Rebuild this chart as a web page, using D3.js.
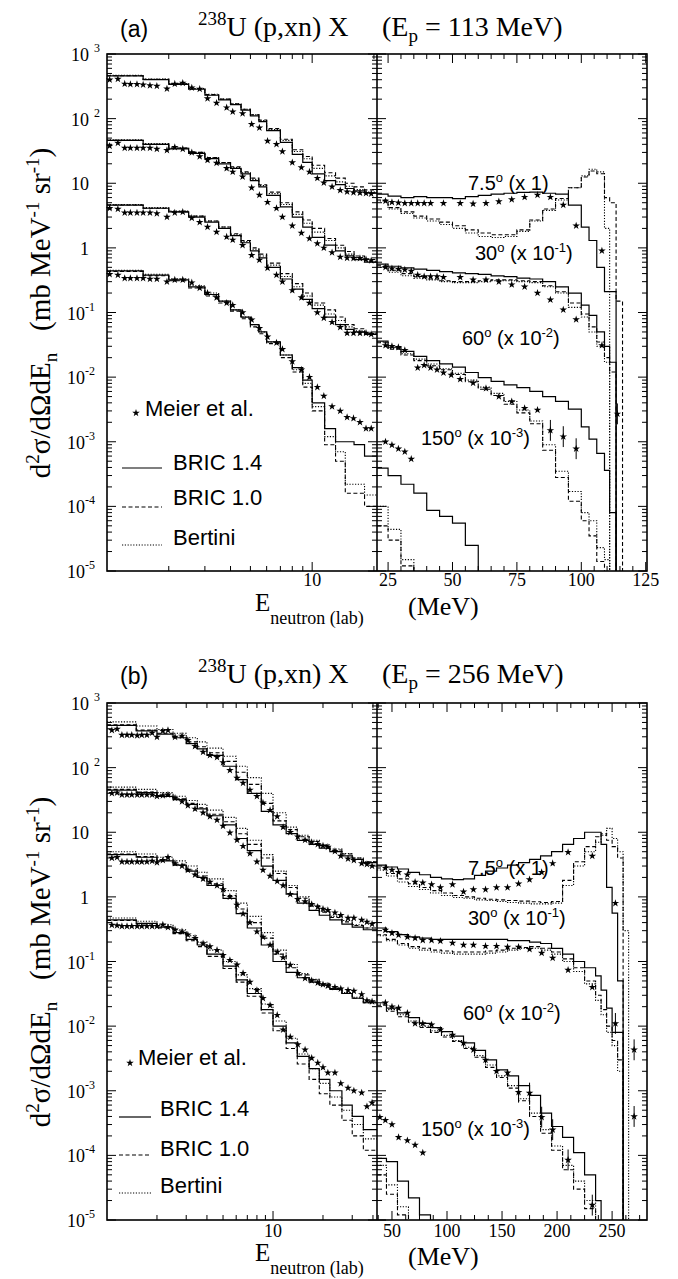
<!DOCTYPE html>
<html>
<head>
<meta charset="utf-8">
<script src="https://cdn.jsdelivr.net/npm/d3@7/dist/d3.min.js"></script>
<style>
  body { margin: 0; background: #fff; }
  svg text { fill: #000; }
</style>
</head>
<body>
<script>
// ================= panel (a): Ep = 113 MeV =================
const edgesLeftA = [1,1.5,2,2.5,3,3.5,4,4.5,5,5.5,6,7,8,9,10,11.5,13,14.5,16,18,20.7];
const edgesRightA = [20.7,25,30,35,40,45,50,55,60,65,70,75,80,85,90,95,100,103,106,109,111,113.5,116,119,125.5];
const starELeftA = [1.03,1.13,1.22,1.3,1.4,1.5,1.62,1.75,1.96,2.14,2.34,2.59,2.83,3.09,3.42,3.83,4.1,4.58,5.07,5.53,6.06,6.7,7.16,8.0,8.86,9.7,10.6,11.4,12.5,13.7,14.8,15.9,17.1,18.3,19.4];
const starERightA = [24,26.5,29,31.5,34,36.5,39,41.5,44,46.5,49.5,53,58,63,68,73,78,83,88,93,98,103,108,114];

// Meier et al. data (already multiplied by the angle factor)
const meier_a75L = [400,410,345,340,340,335,325,320,290,345,355,300,288,205,175,148,128,120,82,72,45,40,31,21,17.5,15,12,10.2,8.8,7.8,7.4,7.2,7.1,7.0,6.9];
const meier_a30L = [37.7,42,35,35,35,35,35,34,32.5,36,34,30,26,22.8,20.6,17,15,12.6,8.5,6.6,5.1,4.1,3.0,2.2,1.7,1.4,1.17,1.0,0.85,0.72,0.70,0.69,0.69,0.66,0.64];
const meier_a60L = [4.1,4.0,3.5,3.5,3.5,3.5,3.5,3.4,3.0,3.5,3.6,2.9,2.5,2.1,1.76,1.48,1.33,1.1,0.77,0.65,0.49,0.38,0.30,0.22,0.17,0.14,0.10,0.082,0.071,0.059,0.048,0.048,0.048,0.048,0.046];
const meier_a150L = [0.39,0.38,0.34,0.34,0.34,0.34,0.33,0.33,0.30,0.32,0.32,0.29,0.24,0.20,0.17,0.14,0.13,0.10,0.077,0.057,0.042,0.034,0.027,0.0175,0.013,0.010,0.007,0.0051,0.0035,0.003,0.0024,0.0023,0.002,0.0016,0.0016];
const meier_a75R = [5.3,5.1,5.0,4.9,4.9,4.9,4.9,4.9,null,4.9,null,4.9,4.8,4.9,5.2,5.6,6.1,6.6,6.1,4.6,2.2,null,0.9,null];
const meier_a30R = [0.50,0.48,0.47,0.46,0.44,0.38,0.36,0.36,0.36,0.35,null,0.35,0.32,0.32,0.30,0.27,0.25,0.20,0.157,0.11,0.078,null,0.031,null];
const meier_a60R = [0.031,0.030,0.029,0.026,null,0.014,0.0153,0.014,0.013,0.0117,0.0108,0.0093,0.0081,0.0067,0.005,0.0042,0.0033,0.0031,0.0015,0.0012,0.00078,null,null,0.0027];
const meier_a150R = [0.001,0.00089,0.00078,0.0007,0.00054];

// BRIC 1.4 (solid), BRIC 1.0 (dashed), Bertini (dotted)
const bric14_a75L = [460,400,340,285,230,195,165,135,110,90,65,43,28,21,14,11,9.5,8.3,7.6,7.1];
const bric10_a75L = [460,405,345,290,235,200,170,140,115,95,70,48,33,26,19,14.5,12,10,8.8,7.9];
const bert_a75L   = [470,410,350,292,238,200,170,140,115,93,68,46,31,24,17,13,10.5,9,8,7.3];
const bric14_a30L = [46,40,34,29,24,20,17,14,11,8.8,6.5,4.3,3.0,2.1,1.45,1.1,0.9,0.75,0.66,0.6];
const bric10_a30L = [46,40,35,30,25,21,18,15,12,9.5,7.3,5.0,3.6,2.7,2.0,1.4,1.1,0.88,0.75,0.66];
const bert_a30L   = [47,41,35,30,25,21,17.5,14.5,11.5,9.2,6.9,4.7,3.3,2.4,1.75,1.3,1.0,0.8,0.7,0.62];
const bric14_a60L = [4.6,4.1,3.6,3.0,2.5,2.0,1.55,1.2,0.9,0.7,0.5,0.33,0.23,0.16,0.115,0.085,0.065,0.055,0.05,0.046];
const bric10_a60L = [4.6,4.1,3.6,3.1,2.6,2.1,1.65,1.3,1.0,0.8,0.58,0.4,0.28,0.2,0.14,0.11,0.085,0.065,0.056,0.048];
const bert_a60L   = [4.7,4.2,3.7,3.1,2.6,2.1,1.6,1.25,0.95,0.75,0.54,0.36,0.25,0.18,0.13,0.095,0.075,0.06,0.052,0.047];
const bric14_a150L = [0.44,0.38,0.32,0.25,0.19,0.15,0.11,0.085,0.065,0.05,0.035,0.022,0.014,0.009,0.004,0.0016,0.001,0.001,0.0009,0.0006];
const bric10_a150L = [0.43,0.37,0.31,0.24,0.18,0.14,0.105,0.08,0.06,0.047,0.033,0.02,0.012,0.007,0.003,0.0009,0.0005,0.00016,0.00016,0.0001];
const bert_a150L   = [0.45,0.39,0.33,0.26,0.2,0.15,0.11,0.085,0.065,0.05,0.035,0.022,0.013,0.008,0.0035,0.0012,0.0007,0.00022,0.00022,0.00015];

const bric14_a75R = [6.8,6.3,6.0,6.2,6.0,6.0,5.8,6.2,6.5,6.8,7.0,7.2,7.3,7.0,6.8,4.6,2.1,1.3,0.5,0.21,0.21,0];
const bric10_a75R = [5.5,4.2,3.6,3.1,2.8,2.5,2.2,1.9,1.7,1.6,1.6,1.9,2.7,4.0,5.8,8.5,12.5,15.5,14,6,5,0.15,0];
const bert_a75R   = [5.3,4.0,3.4,2.9,2.6,2.3,2.0,1.7,1.5,1.45,1.5,1.8,2.6,3.8,5.5,8.5,13,16.5,15,2,0];
const bric14_a30R = [0.56,0.52,0.49,0.47,0.45,0.43,0.41,0.40,0.39,0.37,0.36,0.34,0.33,0.30,0.25,0.2,0.13,0.09,0.05,0.03,0.017,0];
const bric10_a30R = [0.53,0.45,0.40,0.36,0.33,0.31,0.30,0.30,0.31,0.32,0.32,0.31,0.30,0.26,0.21,0.14,0.095,0.06,0.035,0.02,0.012,0];
const bert_a30R   = [0.5,0.42,0.37,0.34,0.32,0.30,0.29,0.29,0.30,0.31,0.31,0.30,0.29,0.25,0.2,0.12,0.085,0.05,0.03,0.017,0];
const bric14_a60R = [0.036,0.029,0.025,0.021,0.018,0.016,0.0143,0.0118,0.0098,0.0086,0.0076,0.0069,0.006,0.005,0.0042,0.0032,0.0017,0.0011,0.00066,0.00036,0.00008,0];
const bric10_a60R = [0.034,0.027,0.022,0.018,0.015,0.013,0.011,0.0085,0.0065,0.0052,0.0038,0.0028,0.0019,0.00074,0.00028,0.00012,0.00006,0.000035,0.000014,0];
const bert_a60R   = [0.035,0.028,0.023,0.019,0.016,0.0135,0.0115,0.009,0.007,0.0056,0.0042,0.0031,0.0021,0.0009,0.00035,0.00017,0.00008,0.00006,0.000023,0.000015,0];
const bric14_a150R = [0.00039,0.0003,0.00022,0.00016,0.000087,0.00007,0.000055,0.000025,0];
const bric10_a150R = [0.00005,0.00003,0.000012,0];
const bert_a150R   = [0.0001,0.000044,0.000015,0.000006,0];

// ================= panel (b): Ep = 256 MeV =================
const edgesLeftB = [1,1.5,2,2.5,3,3.5,4,5,6,7,8.5,10,12,14,16.5,19,22,26,30,35,42.3];
const edgesRightB = [36.4,45,55,65,75,85,95,105,115,125,135,145,155,165,175,185,195,205,215,225,235,240,245,250,255,260,265,270,281.7];
const starELeftB = [1.07,1.15,1.23,1.32,1.41,1.52,1.62,1.74,1.87,2.0,2.17,2.33,2.57,2.83,3.07,3.39,3.79,4.17,4.6,5.0,5.5,6.07,6.6,7.26,8.0,8.7,9.6,10.6,11.5,12.7,14.1,15.6,17.1,18.6,20,21.4,23.6,25.6,28.3,30.7,34.2,36.8,39.5];
const starERightB = [39,44,50,56,64,71,78,86,94,105,115,124,135,145,155,165,175,186,196,210,220,232,243,253,270];

const meier_b75L = [380,395,320,320,320,315,320,320,345,298,370,380,298,310,265,215,174,155,145,120,91,69,58,45,36,28.5,22,17.5,12,10,8.5,7.6,7.0,6.5,6.2,5.9,5.1,4.3,3.9,3.7,3.3,3.2,3.0];
const meier_b30L = [40,41,38,38,38,38,38,38,38,36,37,38,34,30,26,23,20,17.5,15.5,12.5,9.8,7.6,6.1,4.7,3.5,2.6,2.1,1.75,1.5,1.1,0.92,0.85,0.77,0.7,0.65,0.62,0.57,0.52,0.47,0.47,0.44,0.41,0.38];
const meier_b60L = [4.0,4.1,3.5,3.5,3.5,3.5,3.5,3.5,3.6,3.4,3.7,4.1,3.3,3.0,2.6,2.2,1.9,1.7,1.5,1.3,1.0,0.75,0.55,0.4,0.29,0.24,0.18,0.14,0.115,0.088,0.066,0.055,0.051,0.047,0.044,0.042,0.04,0.038,0.036,0.035,0.031,0.025,0.024];
const meier_b150L = [0.366,0.36,0.35,0.35,0.35,0.35,0.35,0.35,0.35,0.35,0.37,0.34,0.31,0.29,0.26,0.23,0.19,0.17,0.15,0.125,0.105,0.089,0.066,0.048,0.036,0.027,0.021,0.0148,0.0088,0.0068,0.0052,0.0043,0.0032,0.0027,0.0023,0.0019,0.0019,0.0013,0.0011,0.001,0.00093,0.00057,0.00065];
const meier_b75R = [null,2.8,2.6,2.4,2.2,1.7,1.65,1.55,1.4,1.55,1.2,1.3,1.3,1.4,1.4,1.6,1.85,2.4,3.3,4.9,null,4.3,null,0.8,null];
const meier_b30R = [null,0.306,0.275,0.257,0.24,0.23,0.214,0.214,0.207,0.193,0.18,0.18,0.173,0.173,0.167,0.167,0.155,0.135,0.113,0.074,null,0.04,null,0.011,0.0043];
const meier_b60R = [null,0.023,0.02,0.019,0.016,0.011,0.011,0.0105,0.0088,0.0073,0.0055,0.0043,0.003,0.002,0.0019,0.00095,0.00092,0.00039,0.00025,0.000085,null,0.000017,null,null,0.0004];
const meier_b150R = [0.00039,0.00035,0.0003,0.00019,0.00017,0.000145,0.00011];

const bric14_b75L = [450,370,330,290,235,195,155,105,65,40,21,13,9.5,7.5,6.5,5.7,5.0,4.3,3.8,3.4];
const bric10_b75L = [460,380,340,300,250,210,170,125,85,55,28,15,11,8.5,7.2,6.2,5.3,4.6,4.0,3.5];
const bert_b75L   = [510,440,390,340,290,250,200,150,105,70,40,20,12,9,7.5,6.4,5.5,4.7,4.0,3.5];
const bric14_b30L = [45,41,36,32,27,23,18,13,8,5.2,3.0,1.8,1.1,0.8,0.62,0.52,0.44,0.38,0.34,0.31];
const bric10_b30L = [46,42,37,33,28,24,19,14.5,9.5,6.5,4.0,2.3,1.4,0.95,0.72,0.58,0.48,0.41,0.36,0.33];
const bert_b30L   = [50,46,41,36,31,27,22,17,11.5,7.5,4.5,2.5,1.5,1.0,0.75,0.6,0.5,0.43,0.37,0.33];
const bric14_b60L = [4.5,4.1,3.6,3.1,2.5,2.0,1.5,0.95,0.55,0.33,0.18,0.1,0.068,0.056,0.048,0.043,0.037,0.032,0.027,0.023];
const bric10_b60L = [4.6,4.2,3.7,3.2,2.6,2.1,1.6,1.05,0.65,0.4,0.23,0.13,0.08,0.062,0.052,0.045,0.038,0.032,0.027,0.023];
const bert_b60L   = [5.0,4.6,4.1,3.6,3.0,2.4,1.9,1.25,0.8,0.5,0.28,0.15,0.09,0.065,0.053,0.046,0.039,0.033,0.028,0.024];
const bric14_b150L = [0.44,0.39,0.34,0.28,0.22,0.18,0.13,0.085,0.052,0.032,0.018,0.01,0.0055,0.0034,0.0022,0.0015,0.001,0.0006,0.0004,0.00025];
const bric10_b150L = [0.43,0.38,0.33,0.27,0.21,0.17,0.12,0.078,0.048,0.029,0.016,0.0085,0.0045,0.0026,0.0015,0.0009,0.0006,0.00035,0.0002,0.00012];
const bert_b150L   = [0.47,0.42,0.37,0.31,0.25,0.2,0.15,0.1,0.062,0.038,0.022,0.012,0.0065,0.0037,0.0022,0.0013,0.0008,0.0005,0.0003,0.00018];

const bric14_b75R = [3.1,2.9,2.7,2.4,2.2,2.0,1.9,1.85,1.9,2.15,2.5,2.8,3.1,3.4,3.8,4.3,5.0,6.5,8.0,10,10,6.5,1.4,0.56,0.05,0];
const bric10_b75R = [2.8,2.3,1.9,1.6,1.4,1.25,1.15,1.05,1.0,0.95,0.92,0.9,0.88,0.86,0.84,0.82,0.85,1.8,3.5,6.0,8.5,9.5,7.5,6.0,4.0,0];
const bert_b75R   = [2.6,2.1,1.7,1.45,1.3,1.15,1.05,0.98,0.95,0.9,0.88,0.85,0.82,0.8,0.78,0.78,0.8,1.5,3.0,5.0,7.0,9.0,11.5,8.0,5.0,0.3,0];
const bric14_b30R = [0.33,0.29,0.26,0.24,0.23,0.22,0.22,0.22,0.22,0.22,0.22,0.22,0.21,0.21,0.2,0.19,0.16,0.13,0.1,0.08,0.06,0.036,0.019,0.008,0.008,0];
const bric10_b30R = [0.26,0.22,0.19,0.17,0.16,0.15,0.145,0.14,0.14,0.14,0.145,0.15,0.16,0.165,0.17,0.16,0.14,0.11,0.08,0.05,0.03,0.018,0.01,0.006,0.003,0];
const bert_b30R   = [0.25,0.21,0.18,0.16,0.15,0.14,0.135,0.13,0.13,0.13,0.135,0.14,0.15,0.16,0.16,0.15,0.13,0.1,0.07,0.045,0.025,0.015,0.008,0.005,0.002,0];
const bric14_b60R = [0.023,0.019,0.016,0.0135,0.011,0.0095,0.0082,0.007,0.0055,0.0042,0.003,0.0021,0.0017,0.0012,0.00085,0.00045,0.00028,0.00019,0.00011,0.00005,0.00002,0];
const bric10_b60R = [0.021,0.017,0.014,0.0115,0.0095,0.008,0.0068,0.0058,0.0045,0.0033,0.0023,0.0016,0.0011,0.0007,0.0004,0.00022,0.00012,0.00006,0.00003,0.000015,0];
const bert_b60R   = [0.022,0.018,0.015,0.012,0.01,0.0085,0.0072,0.006,0.0047,0.0035,0.0025,0.0017,0.0012,0.00075,0.00045,0.00025,0.00014,0.00007,0.00004,0.00002,0.00001,0];
const bric14_b150R = [0.00009,0.00008,0.00004,0.000022,0.000012,0];
const bric10_b150R = [0.00005,0.000025,0.000012,0];
const bert_b150R   = [0.00007,0.000035,0.000016,0.000008,0];

// labels
const angleNames = ["7.5", "30", "60", "150"];
const angleExp = [null, "-1", "-2", "-3"];
const beamEnergies = ["113", "256"];
const legendNames = ["Meier et al.", "BRIC 1.4", "BRIC 1.0", "Bertini"];

// ================= layout =================
const W = 678, H = 1279;
const X0 = 107, XD = 377, X1 = 647;
const serif = "'Liberation Serif', 'Times New Roman', serif";
const sans = "'Liberation Sans', Arial, sans-serif";

const panels = [
  {
    tag: "(a)", energy: beamEnergies[0],
    top: 54, bottom: 571, leftDomain: [1, 20.7], rightDomain: [20.7, 125.5],
    rightMajor: 25, rightMinor: 5, errFrom: 85,
    edgesL: edgesLeftA, edgesR: edgesRightA, starL: starELeftA, starR: starERightA,
    meier: [[meier_a75L, meier_a75R], [meier_a30L, meier_a30R], [meier_a60L, meier_a60R], [meier_a150L, meier_a150R]],
    bric14: [[bric14_a75L, bric14_a75R], [bric14_a30L, bric14_a30R], [bric14_a60L, bric14_a60R], [bric14_a150L, bric14_a150R]],
    bric10: [[bric10_a75L, bric10_a75R], [bric10_a30L, bric10_a30R], [bric10_a60L, bric10_a60R], [bric10_a150L, bric10_a150R]],
    bert: [[bert_a75L, bert_a75R], [bert_a30L, bert_a30R], [bert_a60L, bert_a60R], [bert_a150L, bert_a150R]],
    titleY: 36, xLabY: 586, eY: 611, mevY: 615, yTitleC: 313,
    leg: { sx: 136, sy: 413, tx: 145, ty: 416, lx0: 122, lx1: 162, tx2: 173, rows: [[468, 470], [507, 505], [545, 545]] },
    angPos: [[468, 190], [475, 260], [462, 345], [421, 445]]
  },
  {
    tag: "(b)", energy: beamEnergies[1],
    top: 703, bottom: 1220, leftDomain: [1, 42.3], rightDomain: [36.4, 281.7],
    rightMajor: 50, rightMinor: 12.5, errFrom: 160,
    edgesL: edgesLeftB, edgesR: edgesRightB, starL: starELeftB, starR: starERightB,
    meier: [[meier_b75L, meier_b75R], [meier_b30L, meier_b30R], [meier_b60L, meier_b60R], [meier_b150L, meier_b150R]],
    bric14: [[bric14_b75L, bric14_b75R], [bric14_b30L, bric14_b30R], [bric14_b60L, bric14_b60R], [bric14_b150L, bric14_b150R]],
    bric10: [[bric10_b75L, bric10_b75R], [bric10_b30L, bric10_b30R], [bric10_b60L, bric10_b60R], [bric10_b150L, bric10_b150R]],
    bert: [[bert_b75L, bert_b75R], [bert_b30L, bert_b30R], [bert_b60L, bert_b60R], [bert_b150L, bert_b150R]],
    titleY: 683, xLabY: 1237, eY: 1261, mevY: 1265, yTitleC: 962,
    leg: { sx: 130, sy: 1063, tx: 138, ty: 1065, lx0: 119, lx1: 151, tx2: 160, rows: [[1117, 1116], [1155, 1156], [1193, 1193]] },
    angPos: [[468, 875], [468, 925], [463, 1020], [421, 1136]]
  }
];

const styles = {
  bric14: { dash: null, w: 1.2 },
  bric10: { dash: "4,2.5", w: 1.1 },
  bert: { dash: "1.2,1.6", w: 1.1 }
};

const svg = d3.select("body").append("svg")
  .attr("width", W).attr("height", H)
  .style("display", "block");

const starSym = d3.symbol().type(d3.symbolStar).size(18);

function stepPath(edges, vals, x, y, floor) {
  const yv = v => (v > 0 ? y(v) : floor);
  let d = "";
  for (let i = 0; i < vals.length; i++) {
    const yy = yv(vals[i]);
    d += (i === 0 ? "M" + x(edges[i]) + "," + yy : "V" + yy) + "H" + x(edges[i + 1]);
  }
  if (vals.length < edges.length - 1) d += "V" + floor;
  return d;
}

panels.forEach((p, pi) => {
  const y = d3.scaleLog().domain([1e-5, 1e3]).range([p.bottom, p.top]);
  const xL = d3.scaleLog().domain(p.leftDomain).range([X0, XD]);
  const xR = d3.scaleLinear().domain(p.rightDomain).range([XD, X1]);
  const floor = p.bottom + 10;
  const g = svg.append("g");

  const defs = svg.append("defs");
  defs.append("clipPath").attr("id", "cl" + pi).append("rect")
    .attr("x", X0).attr("y", p.top).attr("width", XD - X0).attr("height", p.bottom - p.top);
  defs.append("clipPath").attr("id", "cr" + pi).append("rect")
    .attr("x", XD).attr("y", p.top).attr("width", X1 - XD).attr("height", p.bottom - p.top);

  const gl = g.append("g").attr("clip-path", "url(#cl" + pi + ")");
  const gr = g.append("g").attr("clip-path", "url(#cr" + pi + ")");

  // model histograms
  ["bert", "bric10", "bric14"].forEach(key => {
    const st = styles[key];
    p[key].forEach(pair => {
      [[gl, p.edgesL, pair[0], xL], [gr, p.edgesR, pair[1], xR]].forEach(([gg, edges, vals, x]) => {
        gg.append("path")
          .attr("d", stepPath(edges, vals, x, y, floor))
          .attr("fill", "none")
          .attr("stroke", "#000")
          .attr("stroke-width", st.w)
          .attr("stroke-dasharray", st.dash);
      });
    });
  });

  // Meier et al. stars
  p.meier.forEach(pair => {
    [[p.starL, pair[0], xL, false], [p.starR, pair[1], xR, true]].forEach(([es, vals, x, right]) => {
      vals.forEach((v, i) => {
        if (v == null) return;
        const cx = x(es[i]), cy = y(v);
        if (right && es[i] >= p.errFrom && v < 0.02) {
          g.append("line").attr("x1", cx).attr("x2", cx)
            .attr("y1", y(v * 1.45)).attr("y2", y(v / 1.45))
            .attr("stroke", "#000").attr("stroke-width", 1);
        }
        g.append("path").attr("d", starSym)
          .attr("transform", "translate(" + cx + "," + cy + ")")
          .attr("fill", "#000");
      });
    });
  });

  // frame
  g.append("rect").attr("x", X0).attr("y", p.top).attr("width", X1 - X0).attr("height", p.bottom - p.top)
    .attr("fill", "none").attr("stroke", "#000").attr("stroke-width", 1.6);
  g.append("line").attr("x1", XD).attr("x2", XD).attr("y1", p.top).attr("y2", p.bottom)
    .attr("stroke", "#000").attr("stroke-width", 1.6);

  // y ticks
  y.ticks().forEach(t => {
    const e = Math.log10(t);
    const major = Math.abs(e - Math.round(e)) < 1e-9;
    const len = major ? 9 : 5;
    const yy = y(t);
    [[X0, X0 + len], [X1 - len, X1], [XD - len, XD + len]].forEach(([a, b]) => {
      g.append("line").attr("x1", a).attr("x2", b).attr("y1", yy).attr("y2", yy)
        .attr("stroke", "#000").attr("stroke-width", 1);
    });
    if (major) {
      const k = Math.round(e);
      const tx = g.append("text").attr("y", yy + 7).attr("text-anchor", "end")
        .style("font-family", serif).style("font-size", "18px");
      if (k === 0) { tx.attr("x", 89).text("1"); }
      else if (k === 1) { tx.attr("x", 89).text("10"); }
      else {
        tx.attr("x", k > 0 ? 100 : 95);
        tx.append("tspan").text("10");
        tx.append("tspan").attr("dy", -9).attr("dx", k > 0 ? 5 : 0)
          .style("font-size", "12px").text(String(k));
      }
    }
  });

  // x ticks, left log section
  xL.ticks().forEach(t => {
    if (t <= p.leftDomain[0] || t >= p.leftDomain[1]) return;
    const major = t === 10;
    const len = major ? 9 : 5;
    const xx = xL(t);
    g.append("line").attr("x1", xx).attr("x2", xx).attr("y1", p.top).attr("y2", p.top + len)
      .attr("stroke", "#000").attr("stroke-width", 1);
    g.append("line").attr("x1", xx).attr("x2", xx).attr("y1", p.bottom - len).attr("y2", p.bottom)
      .attr("stroke", "#000").attr("stroke-width", 1);
    if (major) {
      g.append("text").attr("x", xx).attr("y", p.xLabY).attr("text-anchor", "middle")
        .style("font-family", serif).style("font-size", "18px").text("10");
    }
  });

  // x ticks, right linear section
  const r0 = Math.ceil(p.rightDomain[0] / p.rightMinor), r1 = Math.floor(p.rightDomain[1] / p.rightMinor);
  d3.range(r0, r1 + 1).forEach(k => {
    const t = k * p.rightMinor;
    const major = Math.abs(t / p.rightMajor - Math.round(t / p.rightMajor)) < 1e-9;
    const len = major ? 9 : 5;
    const xx = xR(t);
    g.append("line").attr("x1", xx).attr("x2", xx).attr("y1", p.top).attr("y2", p.top + len)
      .attr("stroke", "#000").attr("stroke-width", 1);
    g.append("line").attr("x1", xx).attr("x2", xx).attr("y1", p.bottom - len).attr("y2", p.bottom)
      .attr("stroke", "#000").attr("stroke-width", 1);
    if (major) {
      g.append("text").attr("x", xx).attr("y", p.xLabY).attr("text-anchor", "middle")
        .style("font-family", serif).style("font-size", "18px").text(t);
    }
  });

  // panel tag and title
  g.append("text").attr("x", 120).attr("y", p.titleY + 1)
    .style("font-family", sans).style("font-size", "23px").text(p.tag);
  const t1 = g.append("text").attr("x", 198).attr("y", p.titleY)
    .style("font-family", serif).style("font-size", "28px");
  t1.append("tspan").attr("dy", -11).style("font-size", "19px").text("238");
  t1.append("tspan").attr("dy", 11).text("U (p,xn) X");
  const t2 = g.append("text").attr("x", 382).attr("y", p.titleY)
    .style("font-family", serif).style("font-size", "28px");
  t2.append("tspan").text("(E");
  t2.append("tspan").attr("dy", 6).style("font-size", "19px").text("p");
  t2.append("tspan").attr("dy", -6).text(" = " + p.energy + " MeV)");

  // axis titles
  const yt = g.append("text")
    .attr("transform", "translate(50," + p.yTitleC + ") rotate(-90)")
    .attr("text-anchor", "middle")
    .style("font-family", serif).style("font-size", "29px");
  yt.append("tspan").text("d");
  yt.append("tspan").attr("dy", -11).style("font-size", "19px").text("2");
  yt.append("tspan").attr("dy", 11).text("σ/dΩdE");
  yt.append("tspan").attr("dy", 7).style("font-size", "19px").text("n");
  yt.append("tspan").attr("dy", -7).text("\u2002 (mb MeV");
  yt.append("tspan").attr("dy", -11).style("font-size", "19px").text("-1");
  yt.append("tspan").attr("dy", 11).text(" sr");
  yt.append("tspan").attr("dy", -11).style("font-size", "19px").text("-1");
  yt.append("tspan").attr("dy", 11).text(")");

  const xt = g.append("text").attr("x", 255).attr("y", p.eY)
    .style("font-family", serif).style("font-size", "25px");
  xt.append("tspan").text("E");
  xt.append("tspan").attr("dy", 13).style("font-size", "18px").text("neutron (lab)");
  g.append("text").attr("x", 408).attr("y", p.mevY)
    .style("font-family", serif).style("font-size", "26px").text("(MeV)");

  // angle labels
  angleNames.forEach((a, i) => {
    const [ax, ay] = p.angPos[i];
    const tx = g.append("text").attr("x", ax).attr("y", ay)
      .style("font-family", sans).style("font-size", "20px");
    tx.append("tspan").text(a);
    tx.append("tspan").attr("dy", -8).style("font-size", "13px").text("o");
    if (angleExp[i] == null) {
      tx.append("tspan").attr("dy", 8).text(" (x 1)");
    } else {
      tx.append("tspan").attr("dy", 8).text(" (x 10");
      tx.append("tspan").attr("dy", -8).style("font-size", "13px").text(angleExp[i]);
      tx.append("tspan").attr("dy", 8).text(")");
    }
  });

  // legend
  const L = p.leg;
  g.append("path").attr("d", starSym).attr("transform", "translate(" + L.sx + "," + L.sy + ")").attr("fill", "#000");
  g.append("text").attr("x", L.tx).attr("y", L.ty)
    .style("font-family", sans).style("font-size", "22px").text(legendNames[0]);
  ["bric14", "bric10", "bert"].forEach((key, i) => {
    const [ly, ty] = L.rows[i];
    g.append("line").attr("x1", L.lx0).attr("x2", L.lx1).attr("y1", ly).attr("y2", ly)
      .attr("stroke", "#000").attr("stroke-width", styles[key].w)
      .attr("stroke-dasharray", styles[key].dash);
    g.append("text").attr("x", L.tx2).attr("y", ty)
      .style("font-family", sans).style("font-size", "22px").text(legendNames[i + 1]);
  });
});
</script>
</body>
</html>
